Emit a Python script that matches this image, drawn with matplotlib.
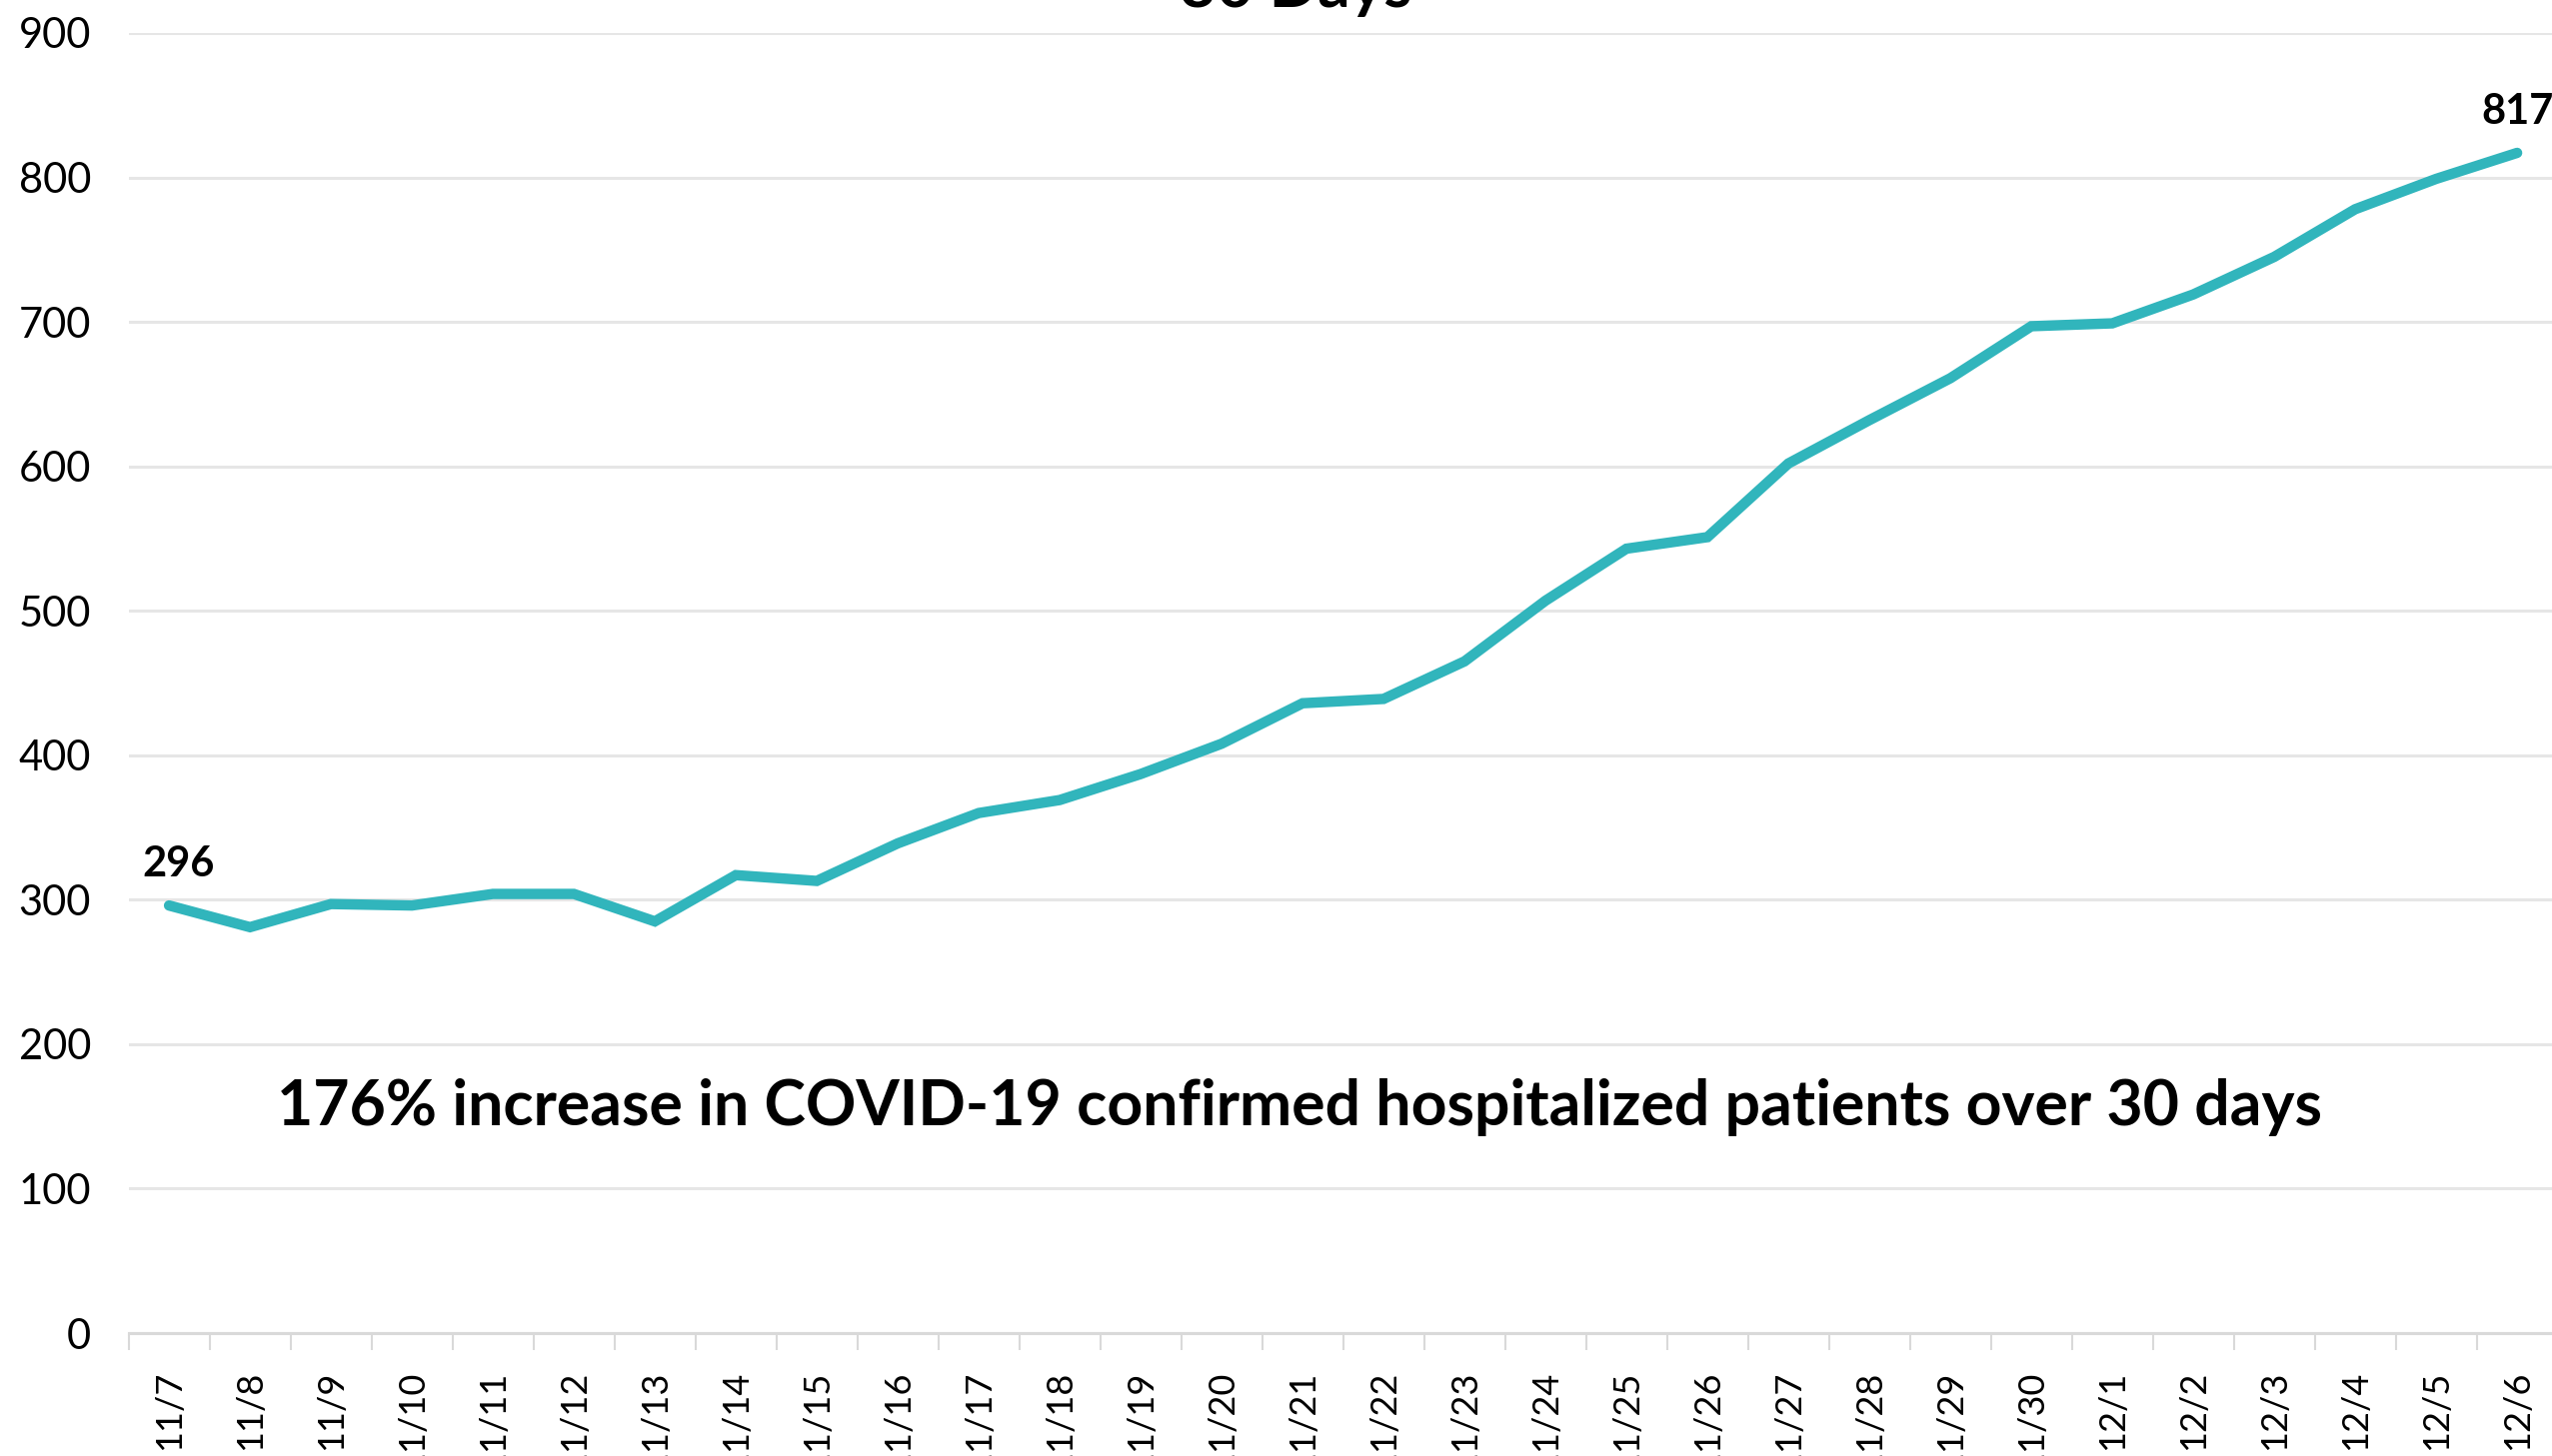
import matplotlib
matplotlib.use("Agg")
import matplotlib.pyplot as plt
from matplotlib.ticker import MultipleLocator, FixedLocator

plt.rcParams["font.family"] = ["Lato", "DejaVu Sans"]

DATES = [
    "11/7", "11/8", "11/9", "11/10", "11/11", "11/12", "11/13", "11/14", "11/15", "11/16",
    "11/17", "11/18", "11/19", "11/20", "11/21", "11/22", "11/23", "11/24", "11/25", "11/26",
    "11/27", "11/28", "11/29", "11/30", "12/1", "12/2", "12/3", "12/4", "12/5", "12/6",
]
PATIENTS = [
    296, 281, 297, 296, 304, 304, 285, 317, 313, 339,
    360, 369, 387, 408, 436, 439, 465, 507, 543, 551,
    602, 632, 661, 697, 699, 719, 745, 778, 799, 817,
]
TITLE = "30 Days"
NOTE = "176% increase in COVID-19 confirmed hospitalized patients over 30 days"

LINE_COLOR = "#31B5BC"
GRID_COLOR = "#E6E6E6"

W, H = 2553, 1457
fig = plt.figure(figsize=(W / 100, H / 100), dpi=100)
left = 128.6 / W
right = (128.6 + 30 * 81.0) / W
bottom = 1 - 1334 / H
top = 1 - 33 / H
ax = fig.add_axes([left, bottom, right - left, top - bottom])

x = list(range(len(DATES)))
ax.plot(x, PATIENTS, color=LINE_COLOR, lw=7.5, solid_joinstyle="miter", solid_capstyle="round",
        clip_on=False, zorder=3)

ax.set_xlim(-0.5, len(DATES) - 0.5)
ax.set_ylim(0, 900)
ax.yaxis.set_major_locator(MultipleLocator(100))
ax.grid(axis="y", color=GRID_COLOR, lw=2.2, zorder=0)

for s in ["top", "right", "left"]:
    ax.spines[s].set_visible(False)
ax.spines["bottom"].set_color("#D9D9D9")
ax.spines["bottom"].set_linewidth(2.2)

ax.set_xticks(x)
ax.set_xticklabels(DATES, rotation=90, fontsize=26)
ax.xaxis.set_minor_locator(FixedLocator([i - 0.5 for i in range(len(DATES) + 1)]))
ax.tick_params(axis="x", which="major", length=0, pad=27)
ax.tick_params(axis="x", which="minor", length=12, width=1.5, color="#D9D9D9")
ax.tick_params(axis="y", length=0, pad=27, labelsize=30)

# end point labels
ax.annotate(str(PATIENTS[0]), (0, PATIENTS[0]), xytext=(7, 16), textcoords="offset points",
            ha="center", va="bottom", fontsize=30, fontweight="bold")
ax.annotate(str(PATIENTS[-1]), (len(DATES) - 1, PATIENTS[-1]), xytext=(0, 16), textcoords="offset points",
            ha="center", va="bottom", fontsize=30, fontweight="bold", annotation_clip=False)

ax.text(1300 / W, 156, NOTE, transform=ax.get_yaxis_transform().__class__(fig.transFigure, ax.transData),
        ha="center", va="center", fontsize=45, fontweight="bold")
ax.text(1296 / W, 1 - 7 / H, TITLE, transform=fig.transFigure, ha="center", va="baseline",
        fontsize=46, fontweight="bold")

fig.savefig("out.png", dpi=100)
